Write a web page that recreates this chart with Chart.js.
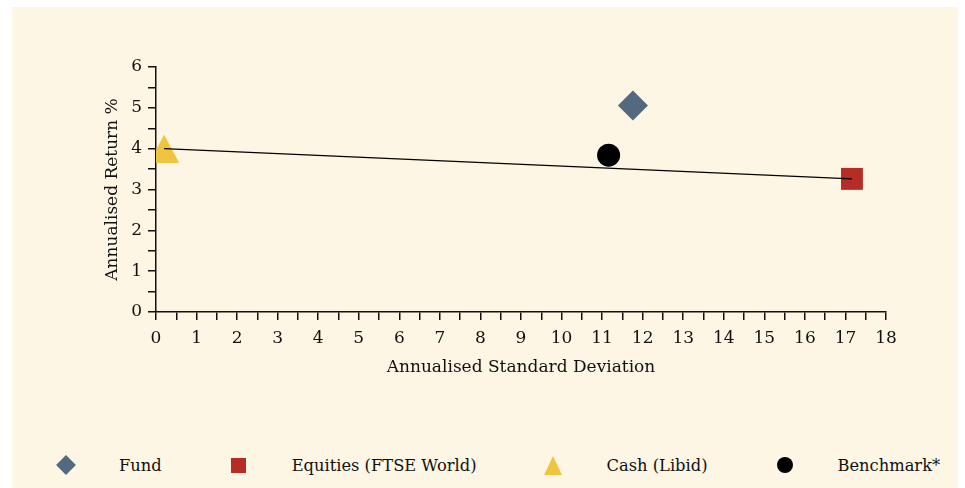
<!DOCTYPE html>
<html>
<head>
<meta charset="utf-8">
<script src="https://cdn.jsdelivr.net/npm/chart.js@4.4.1/dist/chart.umd.min.js"></script>
<style>
  html, body { margin: 0; padding: 0; background: #ffffff; }
  body { width: 965px; height: 488px; position: relative; overflow: hidden; font-family: "DejaVu Serif", serif; }
  #panel { position: absolute; left: 12px; top: 7px; width: 946px; height: 481px; background: #fdf6e4; }
  #wrap { position: absolute; left: 0; top: 0; width: 946px; height: 420px; }
  #legend { position: absolute; left: 44px; top: 446px; height: 24px; display: flex; align-items: center; color: #111111; font-size: 16.3px; white-space: nowrap; }
  .item { display: flex; align-items: center; margin-right: 67px; flex: none; }
  .mk { width: 20px; height: 20px; position: relative; margin-right: 43px; flex: none; }
  .mk span { position: absolute; display: block; }
</style>
</head>
<body>
<div id="panel">
  <div id="wrap"><canvas id="riskChart"></canvas></div>
  <div id="legend"></div>
</div>
<script>
// ===== Data =====
const seriesNames = ["Fund", "Equities (FTSE World)", "Cash (Libid)", "Benchmark*"];
const stdDevValues = [11.76, 17.16, 0.2, 11.16];
const returnValues = [5.06, 3.26, 4.0, 3.84];
// market line runs from Cash to Equities
const lineIndexes = [2, 1];

const xTicksMax = 18;
const yTicksMax = 6;

// ===== Styles =====
const markerColors = ["#52697f", "#b52d25", "#f0c43f", "#000000"];
const textColor = "#111111";
const axisColor = "#111111";
const fontFamily = "'DejaVu Serif', serif";

// triangle drawn on a small canvas so its box is centred on the value
function triangleMarker(w, h, color) {
  const c = document.createElement("canvas");
  c.width = w;
  c.height = h;
  const ctx = c.getContext("2d");
  ctx.fillStyle = color;
  ctx.beginPath();
  ctx.moveTo(w / 2, 0);
  ctx.lineTo(w, h);
  ctx.lineTo(0, h);
  ctx.closePath();
  ctx.fill();
  return c;
}

const pointStyles = ["rectRot", "rect", triangleMarker(30, 28, markerColors[2]), "circle"];
const pointSizes = [15, 15.5, 15, 11.5];

const datasets = seriesNames.map((name, i) => ({
  type: "scatter",
  label: name,
  data: [{ x: stdDevValues[i], y: returnValues[i] }],
  pointStyle: pointStyles[i],
  pointRadius: pointSizes[i],
  pointHoverRadius: pointSizes[i],
  backgroundColor: markerColors[i],
  borderWidth: 0,
  order: 1,
}));

datasets.push({
  type: "line",
  label: "Market line",
  data: lineIndexes.map((i) => ({ x: stdDevValues[i], y: returnValues[i] })),
  borderColor: "#000000",
  borderWidth: 1.2,
  pointRadius: 0,
  fill: false,
  order: 0,
});

function axisTicks(v) {
  return Number.isInteger(v) ? v : "";
}

new Chart(document.getElementById("riskChart"), {
  type: "scatter",
  data: { datasets: datasets },
  options: {
    responsive: true,
    maintainAspectRatio: false,
    animation: false,
    layout: { padding: { left: 0, top: 60, right: 72, bottom: 35 } },
    plugins: {
      legend: { display: false },
      tooltip: { enabled: false },
    },
    scales: {
      x: {
        type: "linear",
        position: "bottom",
        min: 0,
        max: xTicksMax,
        afterFit: (scale) => { scale.height = 80; },
        border: { color: axisColor, width: 1.5 },
        grid: { drawOnChartArea: false, drawTicks: true, tickLength: 8, color: axisColor, lineWidth: 1.5 },
        ticks: {
          stepSize: 0.5,
          autoSkip: false,
          maxRotation: 0,
          padding: 8,
          color: textColor,
          font: { family: fontFamily, size: 17 },
          callback: axisTicks,
        },
        title: {
          display: true,
          text: "Annualised Standard Deviation",
          color: textColor,
          font: { family: fontFamily, size: 17 },
          padding: { top: 0, bottom: 14 },
        },
      },
      y: {
        min: 0,
        max: yTicksMax,
        afterFit: (scale) => { scale.width = 144; },
        border: { color: axisColor, width: 1.5 },
        grid: { drawOnChartArea: false, drawTicks: true, tickLength: 8, color: axisColor, lineWidth: 1.5 },
        ticks: {
          stepSize: 0.5,
          autoSkip: false,
          padding: 6,
          color: textColor,
          font: { family: fontFamily, size: 17 },
          callback: axisTicks,
        },
        title: {
          display: true,
          text: "Annualised Return %",
          color: textColor,
          font: { family: fontFamily, size: 17 },
          padding: { top: 90, bottom: 0 },
        },
      },
    },
  },
});

// ===== Legend =====
const legendShapes = [
  '<span style="left:3px;top:3px;width:14px;height:14px;background:' + markerColors[0] + ';transform:rotate(45deg)"></span>',
  '<span style="left:2.5px;top:2.5px;width:15px;height:15px;background:' + markerColors[1] + '"></span>',
  '<span style="left:0.5px;top:0.5px;width:0;height:0;border-left:9.5px solid transparent;border-right:9.5px solid transparent;border-bottom:19px solid ' + markerColors[2] + '"></span>',
  '<span style="left:2px;top:2px;width:16px;height:16px;border-radius:50%;background:' + markerColors[3] + '"></span>',
];

const legendEl = document.getElementById("legend");
seriesNames.forEach((name, i) => {
  const item = document.createElement("div");
  item.className = "item";
  item.innerHTML = '<div class="mk">' + legendShapes[i] + "</div><span>" + name + "</span>";
  legendEl.appendChild(item);
});
</script>
</body>
</html>
